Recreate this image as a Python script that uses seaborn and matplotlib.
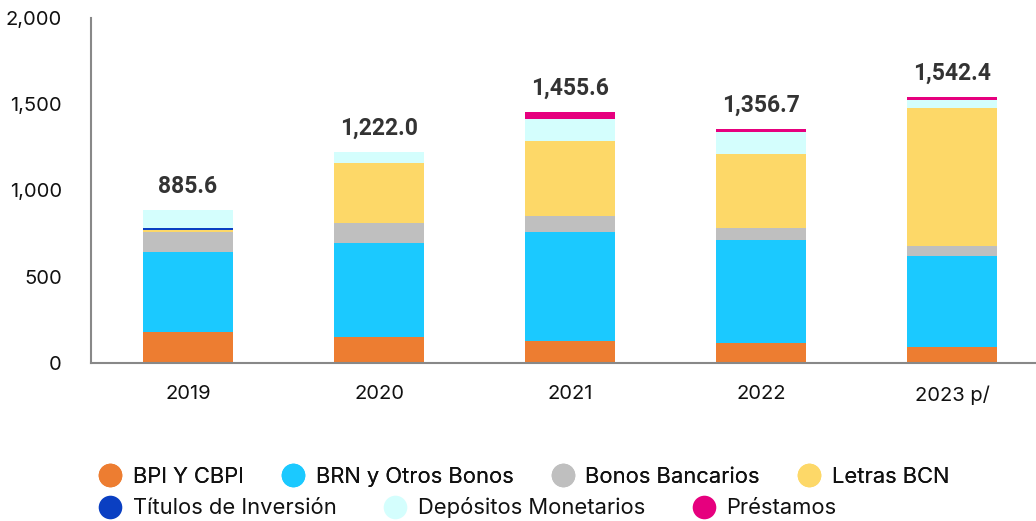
import matplotlib
matplotlib.use("Agg")
import matplotlib.pyplot as plt
import seaborn as sns
import pandas as pd
import numpy as np
from matplotlib.lines import Line2D

years = ["2019", "2020", "2021", "2022", "2023 p/"]
bpi = [178, 153, 130, 117, 95]
brn = [466, 543, 630, 594, 525]
bonos_banc = [116, 116, 94, 70, 56]
letras = [10, 347, 432, 431, 803]
titulos = [13, 0, 0, 0, 0]
depositos = [102.6, 63, 127, 129, 48]
prestamos = [0, 0, 42.6, 15.7, 15.4]
totals = [885.6, 1222.0, 1455.6, 1356.7, 1542.4]

series_names = ["BPI Y CBPI", "BRN y Otros Bonos", "Bonos Bancarios", "Letras BCN",
                "Títulos de Inversión", "Depósitos Monetarios", "Préstamos"]
series_vals = [bpi, brn, bonos_banc, letras, titulos, depositos, prestamos]
colors = ["#ED7D31", "#1BC9FF", "#BFBFBF", "#FDD868", "#0A3FC2", "#D4FEFD", "#E6007E"]

sns.set_style("white")
plt.rcParams["font.family"] = ["Inter", "DejaVu Sans"]

fig = plt.figure(figsize=(10.36, 5.21), dpi=100)
ax = fig.add_axes([91 / 1036, 1 - 363 / 521, 1 - 91 / 1036, (363 - 18) / 521])

cum = np.cumsum(np.array(series_vals, dtype=float), axis=0)
for i in range(len(series_names) - 1, -1, -1):
    df = pd.DataFrame({"year": years, "value": cum[i]})
    sns.barplot(data=df, x="year", y="value", order=years, color=colors[i],
                width=0.47, saturation=1, linewidth=0, ax=ax, errorbar=None)

for i, t in enumerate(totals):
    ax.annotate(f"{t:,.1f}", xy=(i, t), xytext=(0, 9), textcoords="offset points",
                ha="center", va="bottom", fontsize=16.5, fontweight="bold", color="#333333",
                family=["Roboto", "DejaVu Sans"])

ax.set_ylim(0, 2000)
ax.set_xlim(-0.508, 4.44)
ax.set_yticks([0, 500, 1000, 1500, 2000])
ax.set_yticklabels(["0", "500", "1,000", "1,500", "2,000"])
ax.set_xlabel("")
ax.set_ylabel("")
for s in ["top", "right"]:
    ax.spines[s].set_visible(False)
for s in ["left", "bottom"]:
    ax.spines[s].set_color("#888888")
    ax.spines[s].set_linewidth(1.5)
ax.tick_params(axis="both", length=13, width=1.5, color="#888888", labelsize=14.5,
               labelcolor="#111111", direction="out")
ax.tick_params(axis="y", pad=8)
ax.tick_params(axis="x", pad=3)

def mk(i):
    return Line2D([], [], marker="o", linestyle="", markersize=17,
                  markerfacecolor=colors[i], markeredgewidth=0)

leg_kw = dict(loc="center left", frameon=False, fontsize=15.8, handlelength=0.95,
              handletextpad=0.55, borderpad=0, borderaxespad=0,
              labelcolor="#111111")
leg1 = fig.legend([mk(i) for i in range(4)], series_names[:4], ncol=4,
                  bbox_to_anchor=(100 / 1036, 1 - 477 / 521), columnspacing=1.78, **leg_kw)
leg2 = fig.legend([mk(i) for i in range(4, 7)], series_names[4:], ncol=3,
                  bbox_to_anchor=(100 / 1036, 1 - 508 / 521), columnspacing=2.2, **leg_kw)
fig.add_artist(leg1)

fig.savefig("out.png", dpi=100)
